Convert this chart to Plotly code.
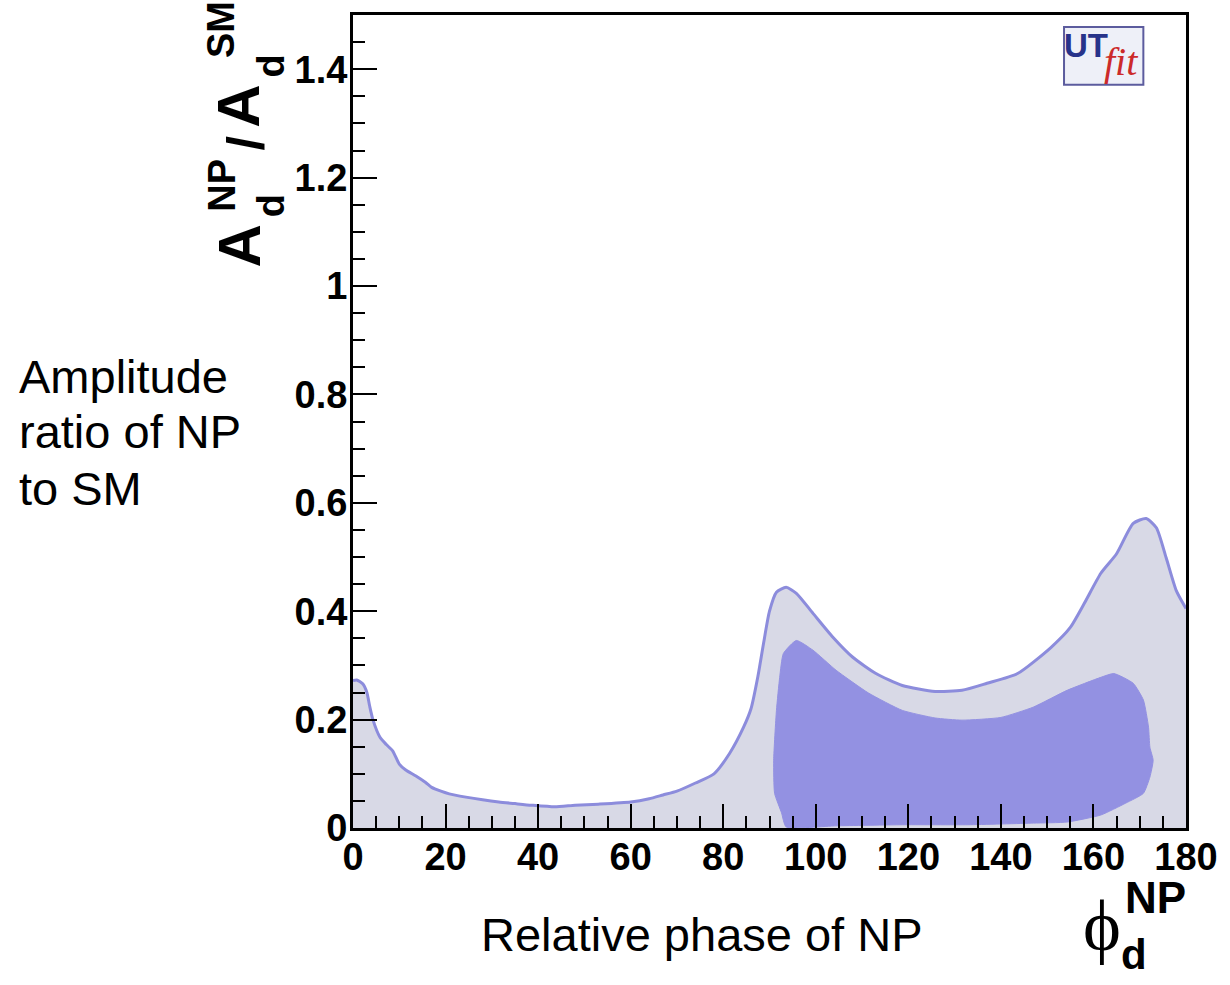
import plotly.graph_objects as go

# ---- data ----
outer_phi = [0, 0.8, 2.1, 3, 3.6, 4.3, 5.8, 7.2, 8.6, 10, 11.4, 13.6, 15.7, 17, 19, 20.8, 24.4,
             28, 31.5, 35, 38.6, 43.6, 48, 53, 60, 64, 67, 70, 74, 78, 81.4, 84.4, 86, 87.5,
             88.7, 90, 91.5, 93.6, 95.8, 99.4, 103.7, 108, 113, 118.7, 125.8, 131.6, 137,
             143.6, 150.8, 155, 158, 161.6, 165, 168.6, 171.4, 173.6, 175.7, 177.9, 180]
outer_amp = [0.272, 0.273, 0.266, 0.25, 0.225, 0.2, 0.168, 0.154, 0.142, 0.118, 0.107, 0.096,
             0.084, 0.075, 0.068, 0.063, 0.057, 0.052, 0.048, 0.045, 0.042, 0.039, 0.042,
             0.044, 0.048, 0.054, 0.061, 0.068, 0.083, 0.10, 0.138, 0.186, 0.22, 0.28, 0.34,
             0.40, 0.435, 0.444, 0.433, 0.396, 0.352, 0.315, 0.285, 0.263, 0.252, 0.254, 0.267,
             0.285, 0.333, 0.37, 0.414, 0.47, 0.506, 0.562, 0.571, 0.554, 0.499, 0.438, 0.405]

inner_phi = [95.8, 99.4, 104.4, 111.4, 118.7, 125.8, 131.6, 140, 147, 154.3, 161.6, 164.4,
             168.6, 170.8, 171.9, 172.2, 172.9, 172.2, 170.8, 167, 161.6, 154.3, 147, 132.9,
             118.7, 104.4, 93.6, 92.6, 91.1, 90.9, 91.5, 92.2, 93, 95.8]
inner_amp = [0.346, 0.328, 0.291, 0.249, 0.217, 0.203, 0.199, 0.204, 0.223, 0.254, 0.278,
             0.285, 0.267, 0.236, 0.186, 0.149, 0.125, 0.094, 0.064, 0.046, 0.024, 0.011,
             0.009, 0.006, 0.006, 0.004, 0.002, 0.028, 0.064, 0.125, 0.217, 0.278, 0.322, 0.346]

x_ticks = [0, 20, 40, 60, 80, 100, 120, 140, 160, 180]
y_ticks = [0, 0.2, 0.4, 0.6, 0.8, 1, 1.2, 1.4]
y_tick_text = ["0", "0.2", "0.4", "0.6", "0.8", "1", "1.2", "1.4"]

# ---- layout geometry (pixels) ----
W, H = 1230, 985
L, R, T, B = 353, 1193, 13, 828


def px(x):
    return (x - L) / (R - L)


def py(y):
    return (B - y) / (B - T)


LIGHT = "#d8d9e6"
LINE = "#8c8cdc"
DARK = "#9391e2"

fig = go.Figure()
fig.add_trace(go.Scatter(x=outer_phi, y=outer_amp, mode="lines", fill="tozeroy",
                         fillcolor=LIGHT, line=dict(color=LINE, width=3, shape="spline",
                                                    smoothing=0.6),
                         hoverinfo="skip", showlegend=False))
fig.add_trace(go.Scatter(x=inner_phi, y=inner_amp, mode="lines", fill="toself",
                         fillcolor=DARK, line=dict(color=DARK, width=1, shape="spline",
                                                   smoothing=0.5),
                         hoverinfo="skip", showlegend=False))

tickfont = dict(family="Liberation Sans", size=38, color="black", weight="bold")

fig.update_xaxes(range=[0, 180], tickvals=x_ticks, ticks="inside", ticklen=24, tickwidth=2,
                 tickcolor="black", showline=True, linewidth=3, linecolor="black", mirror=True,
                 showgrid=False, zeroline=False, tickfont=tickfont, layer="above traces",
                 ticklabelstandoff=-7,
                 minor=dict(dtick=5, tick0=0, ticks="inside", ticklen=12, tickwidth=2,
                            tickcolor="black", showgrid=False))
fig.update_yaxes(range=[0, 1.5], tickvals=y_ticks, ticktext=y_tick_text, ticks="inside",
                 ticklen=24, tickwidth=2, tickcolor="black", showline=True, linewidth=3,
                 linecolor="black", mirror=True, showgrid=False, zeroline=False,
                 tickfont=tickfont, layer="above traces", ticklabelstandoff=-5,
                 minor=dict(dtick=0.05, tick0=0, ticks="inside", ticklen=12, tickwidth=2,
                            tickcolor="black", showgrid=False))

ann = []


def add_text(text, x, y, size, family="Liberation Sans", bold=False, italic=False,
             color="black", angle=0, xanchor="center", yanchor="middle"):
    f = dict(family=family, size=size, color=color)
    if bold:
        f["weight"] = "bold"
    if italic:
        f["style"] = "italic"
    ann.append(dict(text=text, x=px(x), y=py(y), xref="paper", yref="paper",
                    showarrow=False, font=f, textangle=angle,
                    xanchor=xanchor, yanchor=yanchor))


# rotated y-axis title pieces: A_d^NP / A_d^SM
add_text("A", 238, 244, 60, bold=True, angle=-90)
add_text("d", 270, 204, 38, bold=True, angle=-90)
add_text("NP", 220, 184, 38, bold=True, angle=-90)
add_text("/", 245, 142, 52, bold=True, angle=-90)
add_text("A", 238, 104, 60, bold=True, angle=-90)
add_text("d", 270, 64, 38, bold=True, angle=-90)
add_text("SM", 220, 28, 38, bold=True, angle=-90)

# x-axis title pieces: phi_d^NP
add_text("\u03d5", 1108, 926, 72, family="Liberation Serif")
add_text("NP", 1162, 898, 44, bold=True)
add_text("d", 1141, 955, 42, bold=True)

# descriptive texts
add_text("Amplitude", 14, 375, 47, xanchor="left")
add_text("ratio of NP", 14, 431, 47, xanchor="left")
add_text("to SM", 14, 488, 47, xanchor="left")
add_text("Relative phase of NP", 705, 935, 47)

# UTfit logo
add_text("UT", 1092, 44, 33, bold=True, color="#27338a")
add_text("fit", 1127, 60, 40, family="Liberation Serif", italic=True, color="#cc2a2a")

fig.update_layout(
    width=W, height=H,
    margin=dict(l=L, r=W - R, t=T, b=H - B),
    paper_bgcolor="white", plot_bgcolor="white",
    annotations=ann,
    shapes=[dict(type="rect", xref="paper", yref="paper",
                 x0=px(1070), x1=px(1150), y0=py(83), y1=py(25),
                 line=dict(color="#5c5c9e", width=2), fillcolor="#eef0f8", layer="below")],
)

fig.write_html("out.html")
